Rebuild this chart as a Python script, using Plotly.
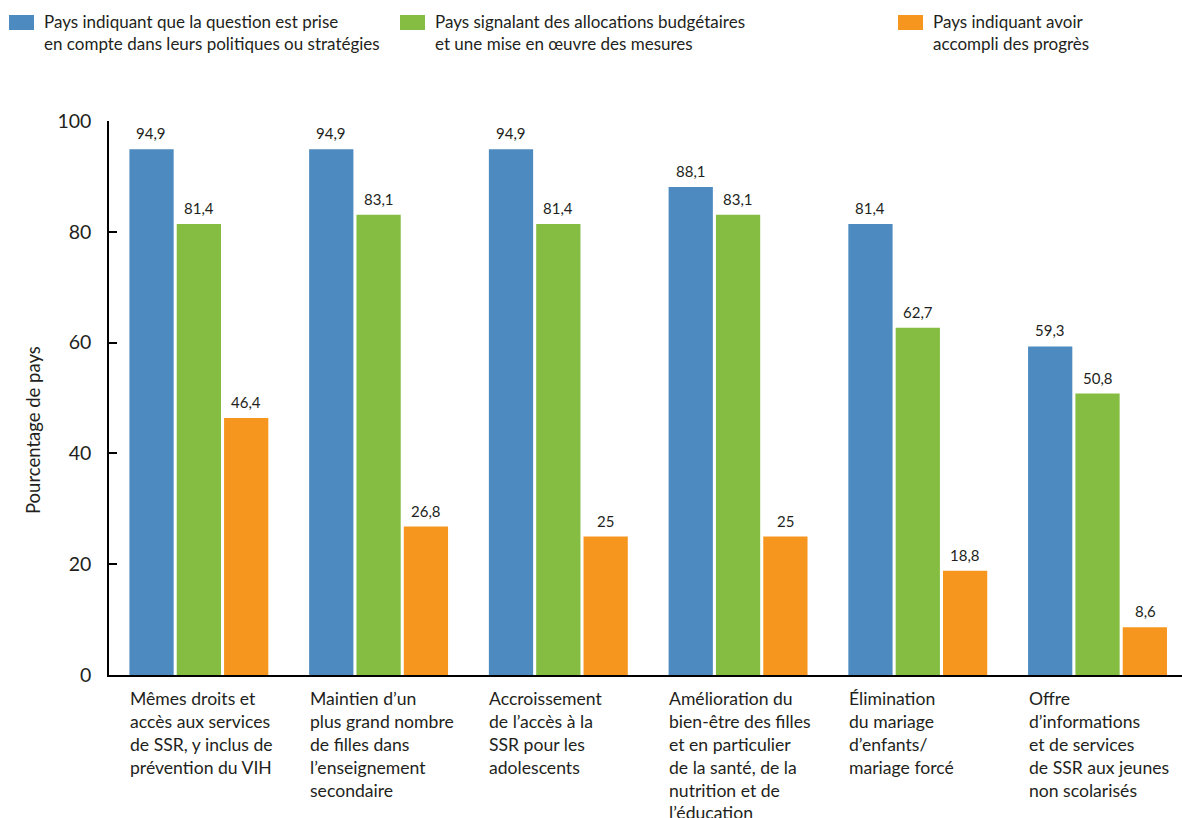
import plotly.graph_objects as go

categories = [
    "Mêmes droits et<br>accès aux services<br>de SSR, y inclus de<br>prévention du VIH",
    "Maintien d’un<br>plus grand nombre<br>de filles dans<br>l’enseignement<br>secondaire",
    "Accroissement<br>de l’accès à la<br>SSR pour les<br>adolescents",
    "Amélioration du<br>bien-être des filles<br>et en particulier<br>de la santé, de la<br>nutrition et de<br>l’éducation",
    "Élimination<br>du mariage<br>d’enfants/<br>mariage forcé",
    "Offre<br>d’informations<br>et de services<br>de SSR aux jeunes<br>non scolarisés",
]
series_names = [
    "Pays indiquant que la question est prise<br>en compte dans leurs politiques ou stratégies",
    "Pays signalant des allocations budgétaires<br>et une mise en œuvre des mesures",
    "Pays indiquant avoir<br>accompli des progrès",
]
y_title = "Pourcentage de pays"
politiques = [94.9, 94.9, 94.9, 88.1, 81.4, 59.3]
allocations = [81.4, 83.1, 81.4, 83.1, 62.7, 50.8]
progres = [46.4, 26.8, 25, 25, 18.8, 8.6]
series_values = [politiques, allocations, progres]
colors = ["#4d8abf", "#84bd41", "#f7961f"]

FONT = "Lato"
TXT = "#231f20"

W, H = 1182, 818
ML, MR, MT, MB = 109, 0, 121, 143
PW, PH = W - ML - MR, H - MT - MB


def px_x(x):
    return (x - ML) / PW


def px_y(y):
    return (H - MB - y) / PH


def fmt(v):
    s = f"{v:.1f}".replace(".", ",")
    return s[:-2] if s.endswith(",0") else s


xidx = list(range(len(categories)))
fig = go.Figure()
for name, vals, col in zip(series_names, series_values, colors):
    fig.add_trace(go.Bar(x=xidx, y=vals, name=name, marker_color=col,
                         marker_line_width=0, showlegend=False,
                         hoverinfo="y"))

annotations = []
offsets = [-47.5, 0, 47.5]
for vals, off in zip(series_values, offsets):
    for i, v in enumerate(vals):
        annotations.append(dict(x=i, y=v, xref="x", yref="y", text=fmt(v),
                                showarrow=False, xshift=off, yshift=5,
                                yanchor="bottom", xanchor="center",
                                font=dict(family=FONT, size=15, color=TXT)))

for i, c in enumerate(categories):
    annotations.append(dict(x=i, y=px_y(686), xref="x", yref="paper", text=c,
                            showarrow=False, xshift=-71, xanchor="left",
                            yanchor="top", align="left",
                            font=dict(family=FONT, size=17.6, color=TXT)))

# y-axis title
annotations.append(dict(x=px_x(33), y=px_y(430), xref="paper", yref="paper",
                        text=y_title, showarrow=False, textangle=-90,
                        xanchor="center", yanchor="middle",
                        font=dict(family=FONT, size=18.5, color=TXT)))

# custom legend
leg_x = [9, 400, 898]
shapes = []
for lx, name, col in zip(leg_x, series_names, colors):
    shapes.append(dict(type="rect", xref="paper", yref="paper",
                       x0=px_x(lx), x1=px_x(lx + 25), y0=px_y(30), y1=px_y(15),
                       fillcolor=col, line_width=0))
    annotations.append(dict(x=px_x(lx + 33), y=px_y(9), xref="paper", yref="paper",
                            text=name, showarrow=False, xanchor="left",
                            yanchor="top", align="left",
                            font=dict(family=FONT, size=17, color=TXT)))

fig.update_layout(
    width=W, height=H,
    margin=dict(l=ML, r=MR, t=MT, b=MB, pad=0),
    plot_bgcolor="white", paper_bgcolor="white",
    barmode="group", bargap=0.21, bargroupgap=0.065,
    font=dict(family=FONT, color=TXT),
    annotations=annotations, shapes=shapes,
    xaxis=dict(range=[-0.5, 5.47], showticklabels=False, ticks="",
               showline=True, linecolor="black", linewidth=2,
               showgrid=False, zeroline=False, fixedrange=True),
    yaxis=dict(range=[0, 100], tickvals=[0, 20, 40, 60, 80, 100],
               ticks="inside", ticklen=8, tickcolor="black", tickwidth=1.5,
               showline=True, linecolor="black", linewidth=1.5,
               showgrid=False, zeroline=False,
               tickfont=dict(family=FONT, size=19.5, color=TXT),
               ticklabelstandoff=12),
)

fig.write_html("out.html")
